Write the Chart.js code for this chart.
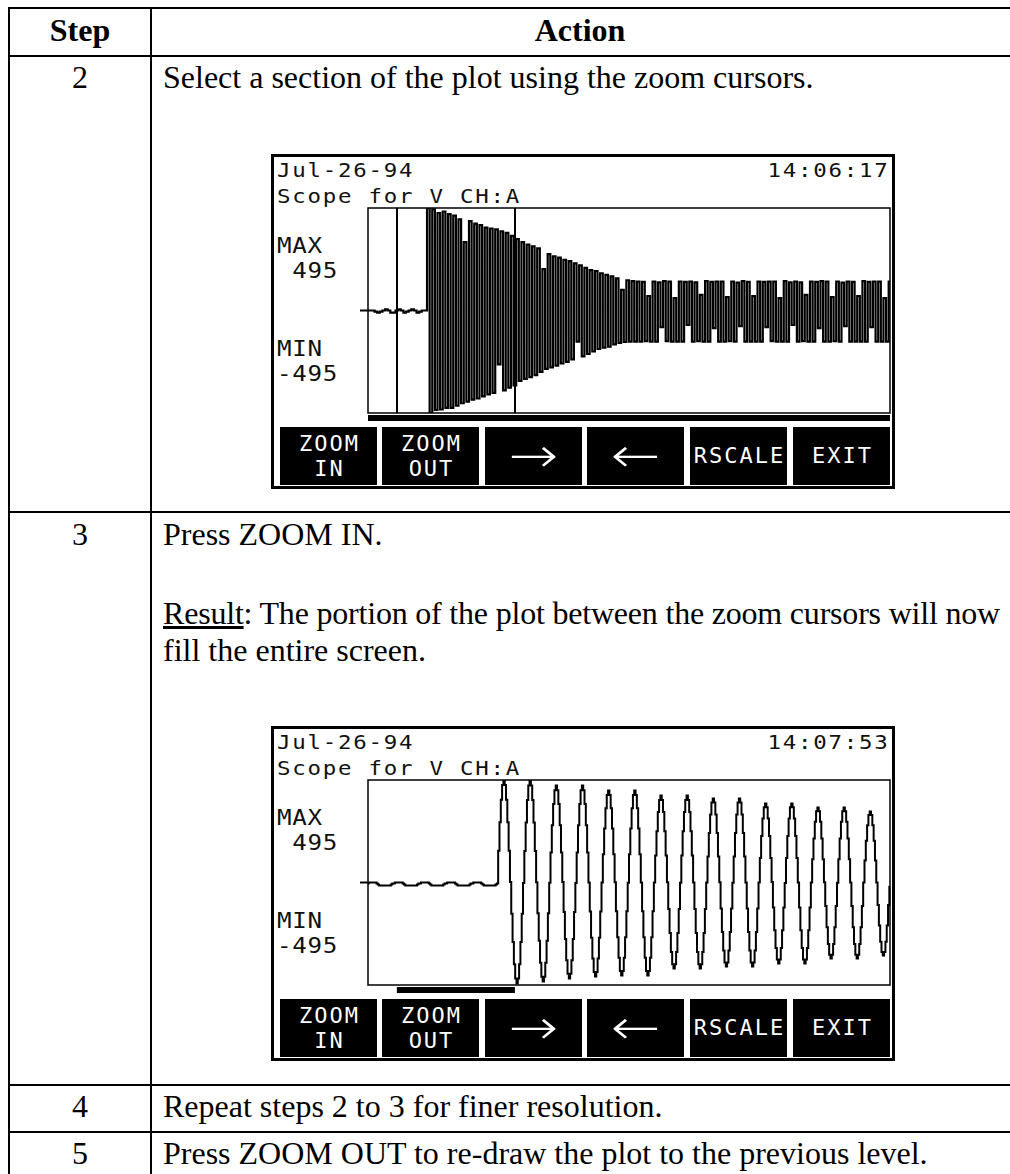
<!DOCTYPE html>
<html>
<head>
<meta charset="utf-8">
<title>Scope zoom steps</title>
<script src="https://cdn.jsdelivr.net/npm/chart.js@4.4.1/dist/chart.umd.min.js"></script>
<style>
    html, body { margin: 0; padding: 0; background: #fff; }
    #page { position: relative; width: 1010px; height: 1174px; overflow: hidden; color: #000;
            font-family: "Liberation Serif", "Times New Roman", serif; }
    .hl { position: absolute; left: 8px; right: 0; height: 2px; background: #000; }
    .vl { position: absolute; top: 7px; bottom: 0; width: 2px; background: #000; }
    .txt { position: absolute; font-size: 32px; line-height: 32px; white-space: nowrap; }
    .ctr { width: 200px; text-align: center; }
    .bold { font-weight: bold; }
    .tight { letter-spacing: -0.2px; }
    .scope { position: absolute; left: 271px; width: 624px; height: 335px; box-sizing: border-box;
             border: 3px solid #000; background: #fff; }
    .lcd { position: absolute; font-family: "DejaVu Sans Mono", "Liberation Mono", monospace;
           white-space: pre; color: #111; }
    .btn { position: absolute; width: 97px; height: 58px; background: #000; color: #fff;
           font-family: "DejaVu Sans Mono", "Liberation Mono", monospace; font-size: 22px;
           letter-spacing: 2px; text-align: center; box-sizing: border-box; padding-left: 2px; }
    .btn.two { line-height: 25px; padding-top: 4px; }
    .btn.one { line-height: 58px; }
    .btn.arrow { font-family: "DejaVu Sans", sans-serif; font-weight: 200; font-size: 44px;
                 line-height: 56px; letter-spacing: 0; padding-left: 0; }
    .btn.arrow span { display: inline-block; transform: scale(1.35, 1.1); }
    canvas { position: absolute; }
</style>
</head>
<body>
<div id="page">
    <div class="hl" style="top:7px"></div>
    <div class="hl" style="top:55px"></div>
    <div class="hl" style="top:511px"></div>
    <div class="hl" style="top:1084px"></div>
    <div class="hl" style="top:1131px"></div>
    <div class="vl" style="left:8px"></div>
    <div class="vl" style="left:150px"></div>

    <div class="txt ctr bold" style="left:-20px; top:14px">Step</div>
    <div class="txt ctr bold" style="left:480px; top:14px">Action</div>

    <div class="txt ctr" style="left:-20px; top:61px">2</div>
    <div class="txt" style="left:163px; top:61px">Select a section of the plot using the zoom cursors.</div>

    <div class="txt ctr" style="left:-20px; top:518px">3</div>
    <div class="txt" style="left:163px; top:518px">Press ZOOM IN.</div>
    <div class="txt tight" style="left:163px; top:597px"><u>Result</u>: The portion of the plot between the zoom cursors will now</div>
    <div class="txt" style="left:163px; top:634px">fill the entire screen.</div>

    <div class="txt ctr" style="left:-20px; top:1090px">4</div>
    <div class="txt" style="left:163px; top:1090px">Repeat steps 2 to 3 for finer resolution.</div>

    <div class="txt ctr" style="left:-20px; top:1137px">5</div>
    <div class="txt" style="left:163px; top:1137px">Press ZOOM OUT to re-draw the plot to the previous level.</div>
</div>

<script>
    // Overview screen (step 2), one value per display column, volts
    var overviewFlat = [0, 0, 0, -5, -10, -5, 0, 5, 0, -10, -10, 0, 5, 0, -10, -5, 0, 5, 0, -10, -5, 0, 0];
    var overviewWave = [
        495, -495, 488, -480, 470, -478, 478, -470, 465, -470,
        458, -460, 440, -448, 330, -440, 432, -430, 420, -425,
        412, -415, 400, -405, 396, -398, 392, -260, 382, -386,
        375, -372, 360, -362, 345, -340, 330, -330, 318, -322,
        310, -312, 300, -296, 200, -282, 272, -275, 262, -266,
        255, -256, 245, -248, 238, -236, 228, -150, 218, -222,
        206, -210, 195, -198, 190, -186, 180, -180, 172, -175,
        165, -164, 155, -156, 100, -152, 146, -150, 142, -150,
        140, -150, 138, -148, 70, -150, 140, -150, 136, -80,
        142, -148, 140, -150, 60, -150, 140, -150, 138, -70,
        140, -150, 136, -148, 75, -150, 142, -150, 138, -85,
        140, -150, 140, -150, 65, -148, 140, -150, 135, -75,
        142, -150, 138, -150, 70, -150, 140, -150, 138, -80,
        140, -148, 140, -150, 60, -150, 142, -150, 136, -70,
        140, -150, 136, -148, 75, -150, 140, -150, 138, -85,
        142, -150, 140, -150, 65, -148, 140, -150, 135, -75,
        140, -150, 138, -150, 70, -150, 142, -150, 138, -80,
        140, -150, 140, -150, 60, -150, 140
    ];
    var zoomCursors = [11, 56];   // overview columns

    // Zoomed screen (step 3), finer columns
    var zoomFlat = [
        -5, 0, 0, 0, 0, 0, 0, -5, -10, -15, -15, -15, -15, -15, -15, -15, -15, -15, -10, -5,
        -5, 0, 0, 0, 0, 0, 0, -5, -10, -15, -15, -15, -15, -15, -15, -15, -15, -15, -10, -5,
        -5, 0, 0, 0, 0, 0, 0, -5, -10, -15, -15, -15, -15, -15, -15, -15, -15, -15, -10, -5,
        -5, 0, 0, 0, 0, 0, 0, -5, -10, -15, -15, -15, -15, -15, -15, -15, -15, -15, -10, -5,
        -5, 0, 0, 0, 0, 0, 0, -5, -10, -15, -15, -15, -15, -15, -15, -15, -15, -15, -10, -5
    ];
    var zoomWave = [
        153, 291, 400, 471, 495, 471, 400, 291, 153, 2, -151, -287, -395, -464, -488, -464, -395, -287, -151, -2,
        152, 290, 399, 469, 493, 469, 399, 290, 152, 1, -148, -281, -387, -455, -478, -455, -387, -281, -148, -1,
        145, 276, 379, 446, 469, 446, 379, 276, 145, 2, -143, -273, -375, -441, -464, -441, -375, -273, -143, -2,
        145, 276, 379, 446, 469, 446, 379, 276, 145, 0, -140, -267, -367, -432, -454, -432, -367, -267, -140, 0,
        137, 261, 359, 422, 444, 422, 359, 261, 137, 1, -139, -264, -363, -427, -449, -427, -363, -264, -139, -1,
        137, 261, 359, 422, 444, 422, 359, 261, 137, 0, -139, -264, -363, -427, -449, -427, -363, -264, -139, 0,
        130, 247, 340, 399, 420, 399, 340, 247, 130, 1, -128, -244, -336, -395, -415, -395, -336, -244, -128, -1,
        130, 247, 340, 399, 420, 399, 340, 247, 130, 0, -128, -244, -336, -395, -415, -395, -336, -244, -128, 0,
        125, 239, 328, 386, 406, 386, 328, 239, 125, 1, -125, -239, -328, -386, -406, -386, -328, -239, -125, -1,
        125, 239, 328, 386, 406, 386, 328, 239, 125, 0, -125, -239, -328, -386, -406, -386, -328, -239, -125, 0,
        118, 225, 309, 363, 382, 363, 309, 225, 118, 2, -121, -230, -316, -372, -391, -372, -316, -230, -121, -2,
        118, 225, 309, 363, 382, 363, 309, 225, 118, 0, -121, -230, -316, -372, -391, -372, -316, -230, -121, 0,
        112, 213, 293, 344, 362, 344, 293, 213, 112, 1, -113, -216, -297, -349, -367, -349, -297, -216, -113, -1,
        112, 213, 293, 344, 362, 344, 293, 213, 112, 0, -113, -216, -297, -349, -367, -349, -297, -216, -113, 0,
        106, 202, 277, 326, 343, 326, 277, 202, 106, 0, -109, -208, -286, -336, -353, -336, -286, -208, -109, -20
    ];

    var scaleMax = 495;
    var scaleMin = -495;
    var buttonLabels = [['ZOOM', 'IN'], ['ZOOM', 'OUT'], ['\u2192'], ['\u2190'], ['RSCALE'], ['EXIT']];

    var page = document.getElementById('page');
    var LCD_PITCH = 15.25;

    function lcdText(text, x, baseline, size, stretch, alignRight) {
        var d = document.createElement('div');
        d.className = 'lcd';
        var spacing = LCD_PITCH / stretch - 0.602 * size;
        d.style.fontSize = size + 'px';
        d.style.lineHeight = size + 'px';
        d.style.letterSpacing = spacing.toFixed(2) + 'px';
        d.style.top = (baseline - 0.846 * size).toFixed(1) + 'px';
        d.style.transform = 'scaleX(' + stretch + ')';
        if (alignRight) {
            d.style.transformOrigin = 'right top';
            d.style.right = (1010 - x - spacing * stretch).toFixed(1) + 'px';
        } else {
            d.style.transformOrigin = 'left top';
            d.style.left = x + 'px';
        }
        d.textContent = text;
        page.appendChild(d);
    }

    // frame, zero tick, zoom cursors and the position bar under the plot
    var scopeDecor = {
        id: 'scopeDecor',
        afterDatasetsDraw: function(chart, args, opts) {
            var a = chart.chartArea;
            var ctx = chart.ctx;
            var xs = chart.scales.x;
            var ys = chart.scales.y;
            ctx.save();
            ctx.strokeStyle = '#000';
            ctx.lineWidth = 1.5;
            ctx.strokeRect(a.left, a.top, a.right - a.left, a.bottom - a.top);

            var y0 = ys.getPixelForValue(0);
            ctx.lineWidth = 2;
            ctx.beginPath();
            ctx.moveTo(a.left - 8, y0);
            ctx.lineTo(a.left, y0);
            ctx.stroke();

            (opts.cursors || []).forEach(function(c) {
                var x = Math.round(xs.getPixelForValue(c));
                ctx.beginPath();
                ctx.moveTo(x, a.top);
                ctx.lineTo(x, a.bottom);
                ctx.stroke();
            });

            var w = a.right - a.left;
            ctx.fillStyle = '#000';
            ctx.fillRect(a.left + opts.bar[0] * w, a.bottom + 2, (opts.bar[1] - opts.bar[0]) * w, 6);
            ctx.restore();
        }
    };

    function buildScope(top, cfg) {
        var box = document.createElement('div');
        box.className = 'scope';
        box.style.top = top + 'px';
        page.appendChild(box);

        lcdText(cfg.date, 277, top + 23, 19, 1.18, false);
        lcdText(cfg.time, 888, top + 23, 19, 1.18, true);
        lcdText('Scope for V CH:A', 277, top + 49, 19, 1.18, false);
        lcdText('MAX', 277, top + 100, 22, 1.1, false);
        lcdText(' ' + scaleMax, 277, top + 125, 22, 1.1, false);
        lcdText('MIN', 277, top + 203, 22, 1.1, false);
        lcdText(String(scaleMin), 277, top + 228, 22, 1.1, false);

        var lefts = [280, 382, 485, 587, 690, 793];
        buttonLabels.forEach(function(lines, i) {
            var b = document.createElement('div');
            var isArrow = lines[0] === '\u2192' || lines[0] === '\u2190';
            b.className = 'btn ' + (isArrow ? 'arrow' : (lines.length > 1 ? 'two' : 'one'));
            b.style.left = lefts[i] + 'px';
            b.style.top = (top + 273) + 'px';
            if (isArrow) {
                b.innerHTML = '<span>' + lines[0] + '</span>';
            } else {
                b.innerHTML = lines.join('<br>');
            }
            page.appendChild(b);
        });

        var canvas = document.createElement('canvas');
        canvas.width = 546;
        canvas.height = 230;
        canvas.style.left = '352px';
        canvas.style.top = (top + 46) + 'px';
        page.appendChild(canvas);

        var values = cfg.flat.concat(cfg.wave);
        var labels = values.map(function(v, i) { return i; });

        new Chart(canvas.getContext('2d'), {
            type: 'line',
            data: {
                labels: labels,
                datasets: [{
                    data: values,
                    borderColor: '#000',
                    borderWidth: cfg.lineWidth,
                    pointRadius: 0,
                    stepped: 'middle',
                    fill: false
                }]
            },
            options: {
                responsive: false,
                animation: false,
                events: [],
                layout: { padding: { left: 16, top: 8, right: 8, bottom: 17 } },
                plugins: {
                    legend: { display: false },
                    tooltip: { enabled: false },
                    scopeDecor: { cursors: cfg.cursors, bar: cfg.bar }
                },
                scales: {
                    x: { display: false },
                    y: { display: false, min: scaleMin, max: scaleMax }
                }
            },
            plugins: [scopeDecor]
        });
    }

    var overviewLast = overviewFlat.length + overviewWave.length - 1;

    buildScope(154, {
        date: 'Jul-26-94', time: '14:06:17',
        flat: overviewFlat, wave: overviewWave,
        cursors: zoomCursors,
        bar: [0, 1],
        lineWidth: 2.2
    });

    buildScope(726, {
        date: 'Jul-26-94', time: '14:07:53',
        flat: zoomFlat, wave: zoomWave,
        cursors: [],
        bar: [zoomCursors[0] / overviewLast, zoomCursors[1] / overviewLast],
        lineWidth: 2
    });
</script>
</body>
</html>
